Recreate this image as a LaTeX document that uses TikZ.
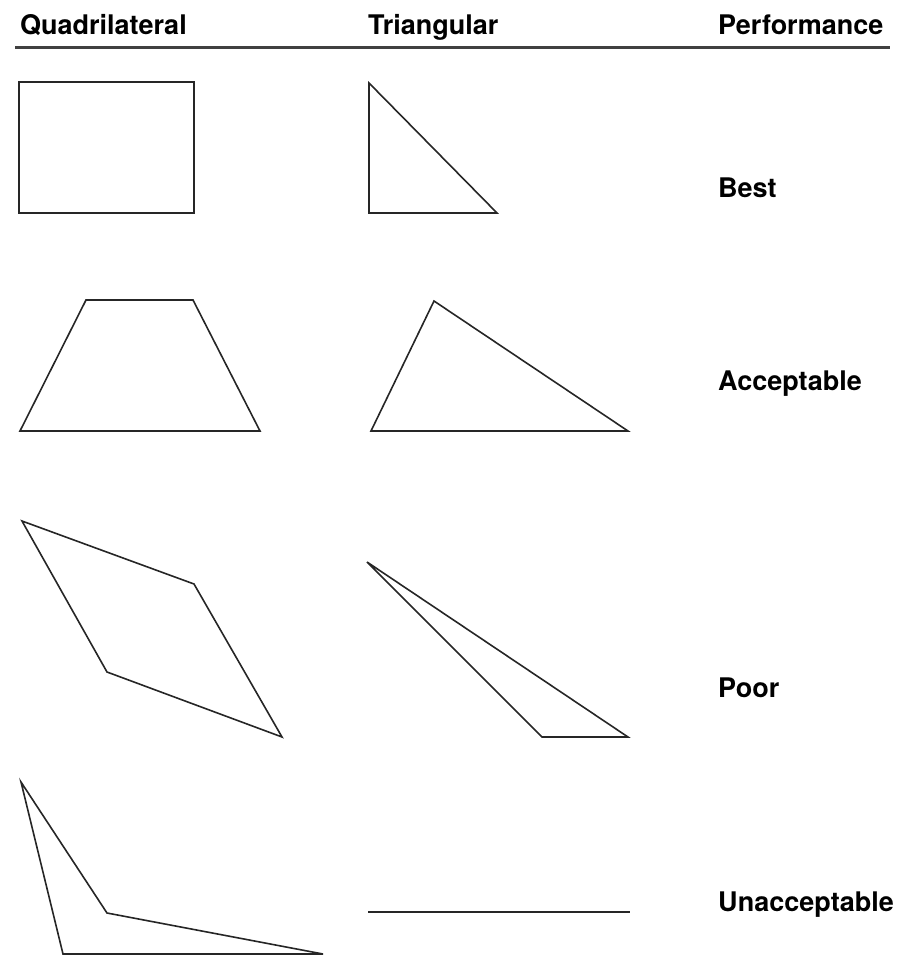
\documentclass[tikz,border=0pt]{standalone}
\usepackage{fontspec}
\setmainfont{TeX Gyre Heros}
\usepackage{tikz}
\usetikzlibrary{positioning, calc}
\tikzset{
	elemedge/.style={line width=1.6pt, draw=black!85, line join=miter}
}
\tikzset{
	headtext/.style={font=\fontsize{27}{30}\selectfont\bfseries, anchor=base west, inner sep=0pt}
}
\tikzset{
	ratetext/.style={font=\fontsize{27}{30}\selectfont\bfseries, anchor=base west, inner sep=0pt}
}

\begin{document}
\begin{tikzpicture}[x=1pt, y=-1pt]

			\useasboundingbox (0,0) rectangle (904,958);

			% header
			\begin{scope}
				\node[headtext] (hQ) at (20,35) {Quadrilateral};
				\node[headtext] (hT) at (368,35) {Triangular};
				\node[headtext] (hP) at (718,35) {Performance};
				\coordinate (rL) at (15,48);
				\coordinate (rR) at (890,48);
				\draw[line width=3pt, black!75] (rL) -- (rR);
			\end{scope}

			% quadrilateral elements
			\begin{scope}
				\coordinate (qA1) at (19,82);
				\coordinate (qA2) at (194,82);
				\coordinate (qA3) at (194,213);
				\coordinate (qA4) at (19,213);
				\draw[elemedge] (qA1) -- (qA2) -- (qA3) -- (qA4) -- cycle;

				\coordinate (qB1) at (86,300);
				\coordinate (qB2) at (193,300);
				\coordinate (qB3) at (260,431);
				\coordinate (qB4) at (20,431);
				\draw[elemedge] (qB1) -- (qB2) -- (qB3) -- (qB4) -- cycle;

				\coordinate (qC1) at (22,521);
				\coordinate (qC2) at (194,584);
				\coordinate (qC3) at (282,737);
				\coordinate (qC4) at (107,672);
				\draw[elemedge] (qC1) -- (qC2) -- (qC3) -- (qC4) -- cycle;

				\coordinate (qD1) at (21,782);
				\coordinate (qD2) at (107,913);
				\coordinate (qD3) at (323,954);
				\coordinate (qD4) at (63,954);
				\draw[elemedge] (qD1) -- (qD2) -- (qD3) -- (qD4) -- cycle;
			\end{scope}

			% triangular elements
			\begin{scope}
				\coordinate (tA1) at (369,83);
				\coordinate (tA2) at (497,213);
				\coordinate (tA3) at (369,213);
				\draw[elemedge] (tA1) -- (tA2) -- (tA3) -- cycle;

				\coordinate (tB1) at (434,301);
				\coordinate (tB2) at (628,431);
				\coordinate (tB3) at (371,431);
				\draw[elemedge] (tB1) -- (tB2) -- (tB3) -- cycle;

				\coordinate (tC1) at (367,562);
				\coordinate (tC2) at (628,737);
				\coordinate (tC3) at (542,737);
				\draw[elemedge] (tC1) -- (tC2) -- (tC3) -- cycle;

				\coordinate (tD1) at (368,912);
				\coordinate (tD2) at (630,912);
				\draw[elemedge, line width=2.6pt] (tD1) -- (tD2);
			\end{scope}

			% ratings
			\node[ratetext] (rBest) at (718,197) {Best};
			\node[ratetext] (rAcc) at (718,390) {Acceptable};
			\node[ratetext] (rPoor) at (718,697) {Poor};
			\node[ratetext] (rUna) at (718,911) {Unacceptable};

		\end{tikzpicture}
\end{document}
